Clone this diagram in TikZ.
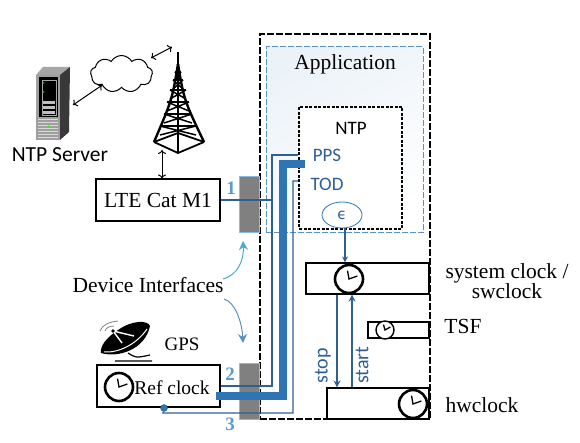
\documentclass[tikz,border=0pt]{standalone}
\usepackage{fontspec}
\setmainfont{Liberation Serif}
\newfontfamily\calfont{Carlito}
\newfontfamily\epsfont{DejaVu Sans}
\usetikzlibrary{positioning, calc, shapes.geometric, shapes.symbols, arrows.meta}
\definecolor{mylink}{HTML}{2F5F93}
\definecolor{mythick}{HTML}{2E75B6}
\definecolor{mynum}{HTML}{5B9BD5}
\definecolor{myteal}{HTML}{4BACC6}
\newcommand{\clockhands}{%
  \draw[line width=1.3pt]
    ($(path picture bounding box.center)!.6!(path picture bounding box.north)+(-1.5,0)$)
    -- (path picture bounding box.center)
    -- ($(path picture bounding box.center)!.6!(path picture bounding box.east)+(0,-3)$);}
\tikzset{
	boxnode/.style={
			rectangle,
			draw=black,
			line width=1.1pt,
			fill=white,
			inner sep=0pt
		},
	portnode/.style={
			rectangle,
			draw=mynum!70,
			fill=gray,
			inner sep=0pt,
			minimum width=20pt
		},
	clocknode/.style={
			circle,
			draw=black,
			line width=2.6pt,
			fill=white,
			inner sep=0pt,
			minimum size=#1,
			path picture={\clockhands}
		},
	textnode/.style={
			inner sep=0pt,
			font=\fontsize{21.5}{20}\selectfont
		},
	sansnode/.style={
			inner sep=0pt,
			font=\calfont\fontsize{19}{22}\selectfont
		},
	numnode/.style={
			inner sep=0pt,
			text=mynum,
			font=\bfseries\fontsize{19}{22}\selectfont
		},
	thinlink/.style={
			draw=mylink,
			line width=1.3pt
		},
	thicklink/.style={
			draw=mythick,
			line width=8.5pt
		},
	blackarrow/.style={
			{To[length=4pt,width=8pt]}-{To[length=4pt,width=8pt]},
			line width=1pt
		}
}
\begin{document}
\begin{tikzpicture}[x=1pt,y=-1pt]
\useasboundingbox (0,0) rectangle (580,443);

% frames
\node[draw=black, line width=1.6pt, dash pattern=on 7pt off 2pt, minimum width=170pt, minimum height=385pt, inner sep=0pt] (tDevice) at (345,226.5) {};
\node[draw=mythick!80, line width=1pt, dash pattern=on 6pt off 2pt, left color=mythick!9, right color=white, shading angle=30, minimum width=157pt, minimum height=186pt, inner sep=0pt] (tApp) at (344.5,140) {};
\node[textnode] (tAppLabel) at (345,64) {Application};
\node[draw=black, line width=1.3pt, dash pattern=on 3pt off 1.5pt, fill=white, minimum width=103pt, minimum height=122pt, inner sep=0pt] (tNTP) at (350.5,168) {};

% ports
\node[portnode, minimum height=56pt] (tPortA) at (249.5,204) {};
\node[portnode, minimum height=56pt] (tPortB) at (249.5,391) {};

% devices
\node[boxnode, minimum width=124pt, minimum height=42pt, textnode] (tLTE) at (158,200) {LTE Cat M1};
\node[boxnode, minimum width=123pt, minimum height=42pt] (tRef) at (158.5,386) {};
\node[clocknode=28pt] (tRefClock) at (119,387) {};
\node[textnode, font=\fontsize{19.5}{22}\selectfont] (tRefLabel) at (172,388) {Ref clock};

% clocks on the right
\node[boxnode, minimum width=123pt, minimum height=31pt] (tSys) at (367.5,278.5) {};
\node[clocknode=28pt] (tSysClock) at (349,279) {};
\node[boxnode, minimum width=61pt, minimum height=16pt] (tTSF) at (398.5,330) {};
\node[clocknode=18pt, line width=1.4pt] (tTSFClock) at (385,330) {};
\node[boxnode, minimum width=102pt, minimum height=31pt] (tHw) at (378,403.5) {};
\node[clocknode=28pt] (tHwClock) at (413,404) {};

% labels
\node[sansnode, font=\calfont\fontsize{21.5}{25}\selectfont] (tServerLabel) at (60,155) {NTP Server};
\node[sansnode] (tNTPLabel) at (351,128) {NTP};
\node[sansnode, text=mylink] (tPPS) at (327,155) {PPS};
\node[sansnode, text=mylink] (tTOD) at (327,184) {TOD};
\node[draw=mythick, thick, ellipse, fill=white, minimum width=40pt, minimum height=26pt, inner sep=0pt, text=mylink, font=\epsfont\fontsize{15}{18}\selectfont] (tEps) at (342,215) {ϵ};
\node[textnode, align=center] (tSysLabel) at (507,281.5) {system clock /\\swclock};
\node[textnode] (tTSFLabel) at (463,326) {TSF};
\node[textnode] (tHwLabel) at (482,405) {hwclock};
\node[textnode] (tIfLabel) at (148,285) {Device Interfaces};
\node[textnode, font=\fontsize{19}{22}\selectfont] (tGPSLabel) at (182,344) {GPS};
\node[numnode] (tNumA) at (231,188) {1};
\node[numnode] (tNumB) at (230,374) {2};
\node[numnode] (tNumC) at (230,424) {3};
\node[sansnode, text=mylink, font=\calfont\fontsize{20}{22}\selectfont, rotate=90] (tStop) at (323,366) {stop};
\node[sansnode, text=mylink, font=\calfont\fontsize{20}{22}\selectfont, rotate=90] (tStart) at (362,365) {start};

% cloud
\node[cloud, draw=black, line width=1pt, cloud puffs=9, cloud puff arc=120, aspect=1.7, minimum width=62pt, minimum height=37pt, inner sep=0pt] (tCloud) at (121.5,74) {};

% server
\fill[gray!70] (36,75) -- (43,67) -- (70,67) -- (60,75) -- cycle;
\fill[gray!45!black] (60,75) -- (70,67) -- (69,132) -- (60,140) -- cycle;
\fill[gray!75] (36,75) rectangle (60,140);
\fill[black] (39,77) rectangle (58,117);
\draw[gray!70] (42,80) rectangle (56,115);
\foreach \y in {101,106,111} {
  \fill[gray!50] (43,\y) rectangle (55,\y+3.5);
}
\foreach \y in {119,122,...,137} {
  \draw[gray!30] (38,\y) -- (58,\y);
}
\fill[green!70!black] (43.5,83) circle (1pt);
\fill[green!70!black] (43.5,92) circle (1pt);
\fill[green!80!yellow] (48.5,126) circle (1.2pt);
\coordinate (tServer) at (73,105);

% tower
\coordinate (tTop) at (178,52);
\coordinate (tBase) at (178,153);
\coordinate (tLeft) at (154,142);
\coordinate (tRight) at (204,142);
\draw[line width=2.4pt] (tTop) -- (tBase);
\draw[line width=2.4pt] (178,64) .. controls (172,100) .. (tLeft);
\draw[line width=2.4pt] (178,64) .. controls (184,100) .. (tRight);
\foreach \y/\w in {72/3,80/5,90/8,102/11,114/14,126/18} {
  \draw[line width=1.5pt] (178-\w,\y) -- (178+\w,\y+9) (178+\w,\y) -- (178-\w,\y+9);
  \draw[line width=1.5pt] (178-\w,\y) -- (178+\w,\y);
}
\draw[line width=1.8pt] (tLeft) -- (178,133) -- (tRight);
\draw[line width=1.8pt] (tLeft) -- (tBase) -- (tRight);

% dish
\fill[black] (101,353) .. controls (118,358) and (145,350) .. (150,326) .. controls (148,320) and (132,320) .. (118,330) .. controls (106,338) and (100,346) .. (101,353);
\draw[white, line width=1pt] (104,352) .. controls (118,353) and (136,345) .. (147,329);
\draw[white, line width=1.4pt] (113,331) -- (122,343) (113,331) -- (134,336);
\draw[black, line width=1.2pt] (115,361) -- (152,361) (128,353) .. controls (136,358) .. (150,355);
\draw[gray, thick] (100,331) .. controls (102,325) and (109,322) .. (118,321);
\draw[gray, thick] (105,331) .. controls (106,328) and (109,326) .. (114,326);
\fill[black] (113,331) circle (1.8pt);

% links
\coordinate (tPPSjoin) at (272,155);
\coordinate (tPPSout) at (272,386);
\coordinate (tLTEjoin) at (271,200);
\coordinate (tThickA) at (216,396);
\coordinate (tThickB) at (283,396);
\coordinate (tThickC) at (283,164);
\coordinate (tThickD) at (305,164);
\coordinate (tTodA) at (293,181);
\coordinate (tTodB) at (293,413);
\coordinate (tTodC) at (163,413);
\node[circle, fill=mythick, draw=mylink, inner sep=0pt, minimum size=7pt] (tDot) at (164,408) {};

\draw[thinlink] (tLTE.east) -- (tLTEjoin);
\draw[thinlink] (tRef.east |- tPPSout) -- (tPPSout) -- (tPPSjoin) -- (tNTP.west |- tPPSjoin);
\draw[thinlink] (tDot) -- (tTodC) -- (tTodB) -- (tTodA) -- (tNTP.west |- tTodA);
\draw[thicklink] (tThickA) -- (tThickB) -- (tThickC) -- (tThickD);

\draw[thinlink, -{Stealth[length=6pt,width=6pt]}] (tEps.south -| 345,0) -- (tSys.north -| 345,0);
\draw[thinlink, -{Stealth[length=7pt,width=7pt]}] (tSys.south -| 337,0) -- (tHw.north -| 337,0);
\draw[thinlink, -{Stealth[length=7pt,width=7pt]}] (tHw.north -| 352,0) -- (tSys.south -| 352,0);

\draw[blackarrow] (tServer) -- (tCloud.210);
\draw[blackarrow] (151,58) -- (172,47);
\draw[blackarrow] (162,150) -- (tLTE.north -| 162,0);

\draw[myteal, line width=1pt, -{Stealth[length=9pt,width=9pt]}] (223,279) .. controls (238,275) and (244,260) .. (243,241);
\draw[mythick!80, line width=1pt, -{Stealth[length=9pt,width=9pt]}] (224,299) .. controls (235,302) and (242,322) .. (243,343);

\end{tikzpicture}
\end{document}
